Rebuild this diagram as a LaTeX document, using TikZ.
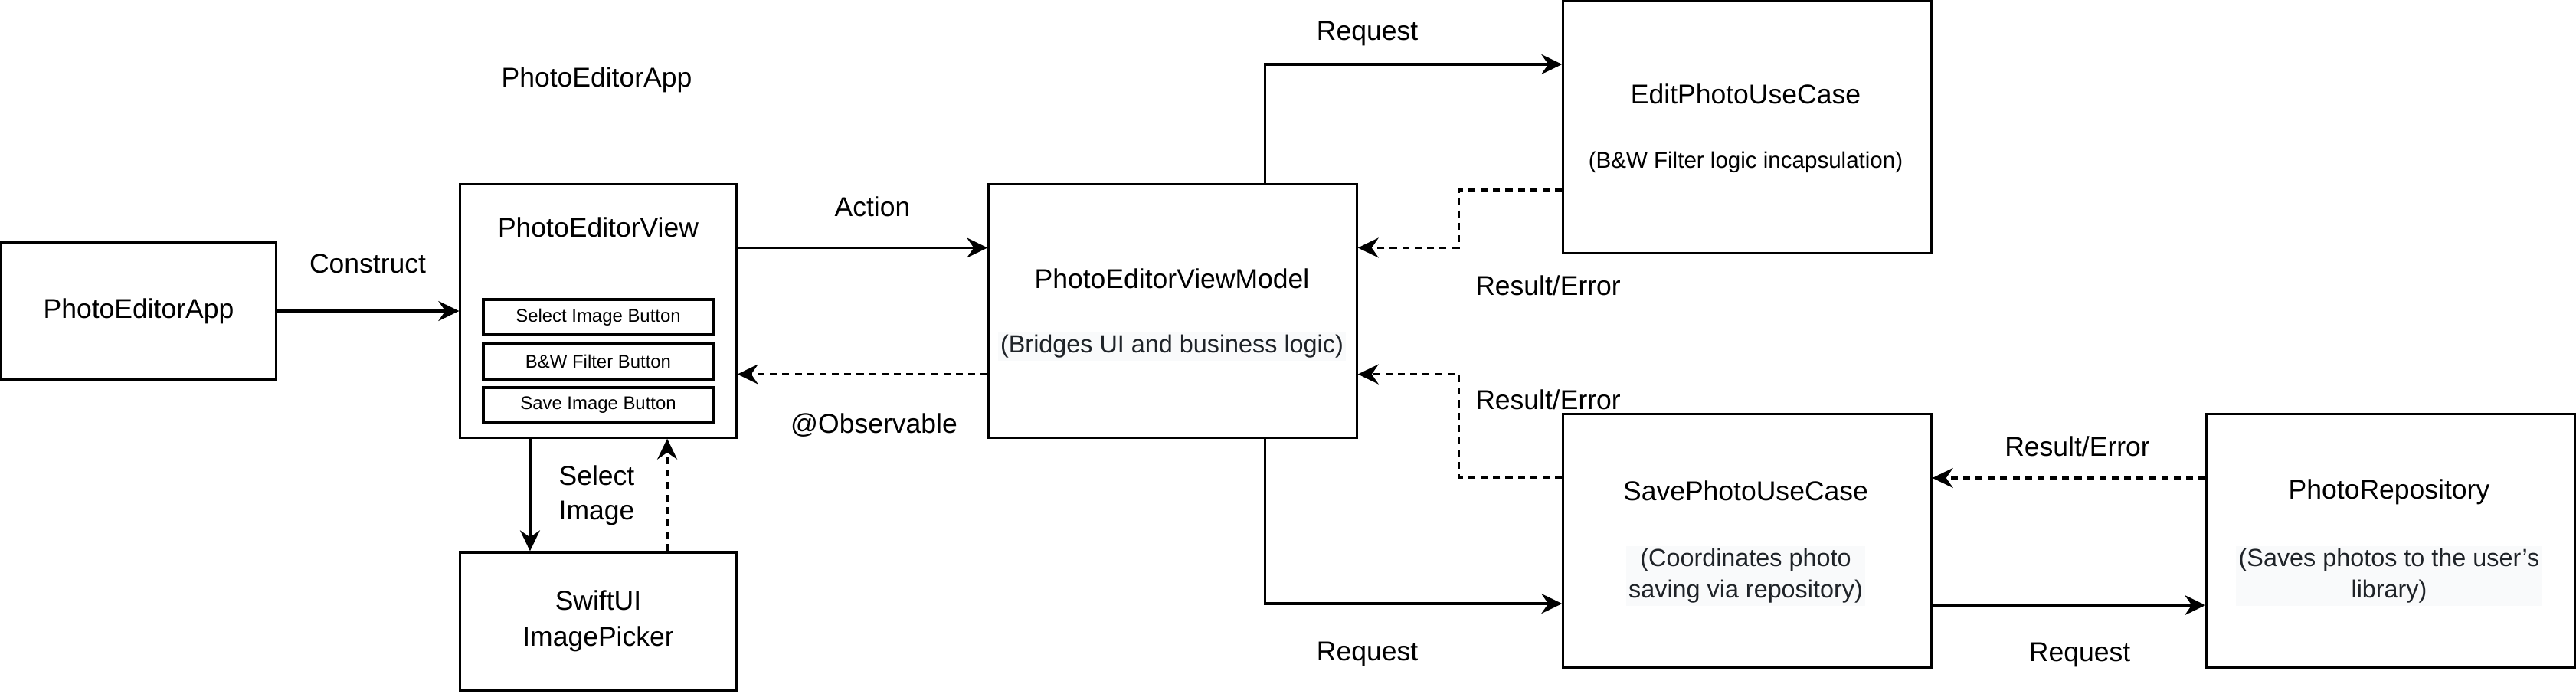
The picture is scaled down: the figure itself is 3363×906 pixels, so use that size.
\documentclass[tikz,border=0pt]{standalone}
\usepackage{fontspec}
\setmainfont{Liberation Sans}
\usetikzlibrary{arrows.meta}
\definecolor{notegray}{RGB}{31,35,40}
\definecolor{notebg}{RGB}{249,250,251}

\begin{document}
\begin{tikzpicture}[x=0.01cm,y=-0.01cm,>={Stealth[length=2.7mm,width=2.6mm,inset=0.9mm]},line width=0.9pt,
  box/.style={draw,line width=0.9pt,inner sep=0pt,font=\fontsize{10.1}{13.3}\selectfont,align=center},
  btn/.style={draw,line width=0.9pt,minimum width=3cm,minimum height=0.46cm,inner sep=0pt,font=\fontsize{6.8}{8}\selectfont},
  lbl/.style={font=\fontsize{10.1}{12.8}\selectfont,align=center,inner sep=0pt},
  note/.style={text=notegray,fill=notebg,inner sep=1pt,font=\fontsize{9.2}{11.6}\selectfont,align=center},
  ret/.style={->,dash pattern=on 2.6pt off 2pt}]
\useasboundingbox (0,0) rectangle (3363,906);
\node[lbl] (apptitle) at (779,104) {PhotoEditorApp};
\node[box,minimum width=3.58cm,minimum height=1.8cm] (app) at (181,406) {PhotoEditorApp};
\node[box,minimum width=3.6cm,minimum height=3.3cm] (view) at (781,406) {};
\node[lbl] (viewtitle) at (781,297) {PhotoEditorView};
\node[btn] (selbtn) at (781,414) {Select Image Button};
\node[btn] (bwbtn) at (781,472) {B\&W Filter Button};
\node[btn] (savebtn) at (781,529) {Save Image Button};
\node[box,minimum width=3.6cm,minimum height=1.8cm] (picker) at (781,811) {SwiftUI\\ImagePicker};
\node[box,minimum width=4.8cm,minimum height=3.3cm] (vm) at (1531,406) {};
\node[lbl] (vmtitle) at (1530,364) {PhotoEditorViewModel};
\node[note] (vmnote) at (1530,452) {(Bridges UI and business logic)};
\node[box,minimum width=4.8cm,minimum height=3.28cm] (edit) at (2281,166) {};
\node[lbl] (edittitle) at (2279,123) {EditPhotoUseCase};
\node[lbl,font=\fontsize{8.4}{10}\selectfont] (editnote) at (2279,212) {(B\&W Filter logic incapsulation)};
\node[box,minimum width=4.8cm,minimum height=3.3cm] (save) at (2281,706) {};
\node[lbl] (savetitle) at (2279,641) {SavePhotoUseCase};
\node[note] (savenote) at (2279,752) {(Coordinates photo\\saving via repository)};
\node[box,minimum width=4.8cm,minimum height=3.3cm] (repo) at (3121,706) {};
\node[lbl] (repotitle) at (3119,642) {PhotoRepository};
\node[note] (reponote) at (3119,752) {(Saves photos to the user’s\\library)};

\draw[->] (app) -- (view);
\node[lbl] (construct) at (480,344) {Construct};
\draw[->] ([yshift=0.825cm]view.east) -- ([yshift=0.825cm]vm.west);
\node[lbl] (action) at (1139,270) {Action};
\draw[ret] ([yshift=-0.825cm]vm.west) -- ([yshift=-0.825cm]view.east);
\node[lbl] (observable) at (1141,555) {@Observable};
\draw[->] ([xshift=-0.89cm]view.south) -- ([xshift=-0.89cm]picker.north);
\draw[ret] ([xshift=0.9cm]picker.north) -- ([xshift=0.9cm]view.south);
\node[lbl] (selectimg) at (779,647) {Select\\Image};
\draw[->] ([xshift=1.2cm]vm.north) |- ([yshift=0.82cm]edit.west);
\node[lbl] (reqedit) at (1785,44) {Request};
\draw[ret] ([yshift=-0.82cm]edit.west) -- ++(-1.35cm,0) |- ([yshift=0.825cm]vm.east);
\node[lbl] (resedit) at (2021,373) {Result/Error};
\draw[ret] ([yshift=0.83cm]save.west) -- ++(-1.35cm,0) |- ([yshift=-0.825cm]vm.east);
\node[lbl] (ressave) at (2021,522) {Result/Error};
\draw[->] ([xshift=1.2cm]vm.south) |- ([yshift=-0.82cm]save.west);
\node[lbl] (reqsave) at (1785,854) {Request};
\draw[ret] ([yshift=0.82cm]repo.west) -- ([yshift=0.82cm]save.east);
\node[lbl] (resrepo) at (2712,583) {Result/Error};
\draw[->] ([yshift=-0.84cm]save.east) -- ([yshift=-0.84cm]repo.west);
\node[lbl] (reqrepo) at (2715,855) {Request};
\end{tikzpicture}
\end{document}
